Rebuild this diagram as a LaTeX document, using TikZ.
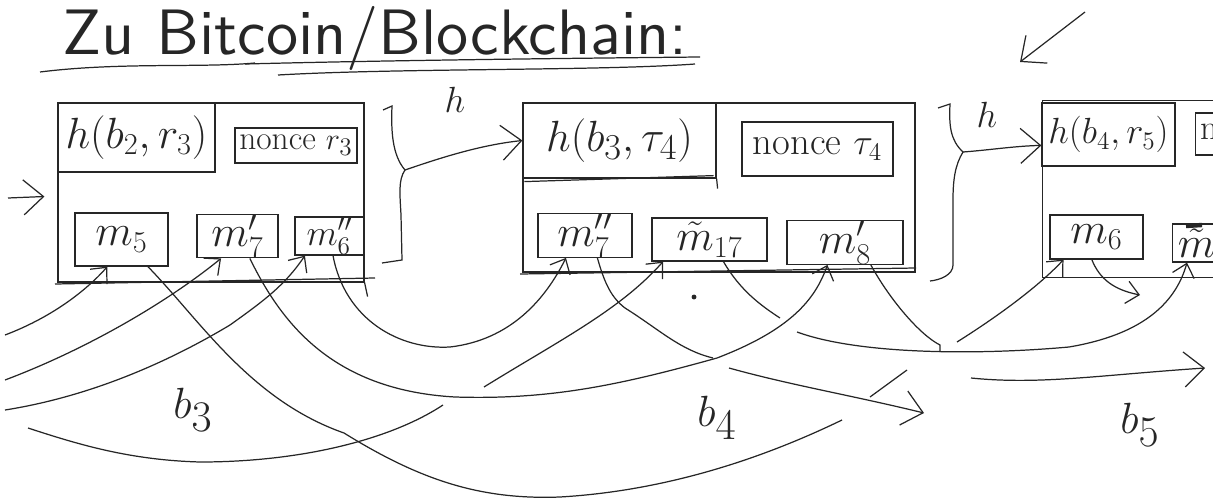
\documentclass[tikz,border=0pt]{standalone}
\usetikzlibrary{arrows.meta,calc}
\begin{document}
\begin{tikzpicture}[x=0.02cm,y=-0.02cm,line width=0.7pt,color=black!85,
  cell/.style={draw,inner sep=0pt},
  arr/.style={-{Straight Barb[length=2.5mm,width=4.5mm]}},
  bigarr/.style={-{Straight Barb[length=4mm,width=7mm]}},
  fA/.style={font=\fontsize{24}{26}\selectfont},
  fB/.style={font=\fontsize{20}{22}\selectfont},
  fC/.style={font=\fontsize{34}{36}\selectfont}]
\useasboundingbox (0,0) rectangle (1213,500);
\clip (0,0) rectangle (1213,500);

% title
\node[anchor=west,inner sep=0pt] (title) at (62,38) {\resizebox{12.5cm}{!}{\sffamily Zu Bitcoin/Blockchain:}};
\draw (40,72) .. controls (120,62) and (200,68) .. (255,63);
\draw (245,64) .. controls (400,60) and (600,58) .. (700,57);
\draw (278,75) .. controls (400,68) and (600,71) .. (695,64);

% top right arrow
\coordinate (tra) at (1085,12);
\coordinate (trb) at (1020,62);
\draw[bigarr] (tra) -- (trb);

% block 1
\node[cell,minimum width=6.12cm,minimum height=3.58cm] (B1) at (211,192.5) {};
\node[cell,minimum width=3.14cm,minimum height=1.38cm,fA] (h1) at (136.5,137.5) {$h(b_2,r_3)$};
\node[cell,minimum width=2.44cm,minimum height=0.7cm,font=\fontsize{19}{21}\selectfont] (n1) at (296,145.5) {nonce $r_3$};
\node[cell,minimum width=1.86cm,minimum height=1.06cm,fA] (m5) at (121.5,239.5) {$m_5$};
\node[cell,minimum width=1.62cm,minimum height=0.84cm,fA] (m7p) at (237.5,236) {$m'_7$};
\node[cell,minimum width=1.38cm,minimum height=0.76cm,fB] (m6pp) at (329.5,236) {$m''_6$};
\draw (55,284) -- (375,278);
\draw (B1.south east) -- ++(3,14);
\coordinate (la) at (8,198);
\draw[bigarr] (la) -- ($(B1.west)+(-13,4)$);

% brace 1
\coordinate (br1) at (405,170);
\draw (383,110) -- (392,106) .. controls (391,130) and (392,155) .. (br1)
      .. controls (398,180) and (400,195) .. (401,215) -- (402,260) -- (382,263);
\node[fB] (hl1) at (455,100) {$h$};

% block 2
\node[cell,minimum width=7.84cm,minimum height=3.38cm] (B2) at (719,187.5) {};
\node[cell,minimum width=3.86cm,minimum height=1.5cm,font=\fontsize{28}{30}\selectfont] (h2) at (619.5,140.5) {$h(b_3,\tau_4)$};
\draw ($(h2.south west)+(2,3)$) -- ($(h2.south east)+(-3,-3)$);
\draw (h2.south east) -- ++(1,10);
\node[cell,minimum width=3.02cm,minimum height=1.08cm,font=\fontsize{22}{24}\selectfont] (n2) at (817.5,149) {nonce $\tau_4$};
\node[cell,minimum width=1.88cm,minimum height=0.82cm,fA] (m7pp) at (585,235.5) {$m''_7$};
\node[cell,minimum width=2.3cm,minimum height=0.86cm,fA] (m17) at (709.5,239.5) {$\tilde m_{17}$};
\node[cell,minimum width=2.32cm,minimum height=0.82cm,fA] (m8p) at (845,242.5) {$m'_8$};
\draw (520,274) -- (916,268);
\draw[bigarr] (br1) .. controls (440,158) and (480,145) .. (h2.west);

% brace 2
\coordinate (br2) at (963,152);
\draw (938,108) -- (950,104) .. controls (949,125) and (950,140) .. (br2)
      .. controls (955,165) and (953,180) .. (953,200) -- (953,265)
      .. controls (953,275) and (940,280) .. (930,281);
\node[fB] (hl2) at (987,115) {$h$};

% block 3
\node[cell,minimum width=4cm,minimum height=3.54cm,anchor=north west] (B3) at (1042,100) {};
\node[cell,minimum width=2.66cm,minimum height=1.26cm,font=\fontsize{22}{24}\selectfont] (h3) at (1108.5,134.5) {$h(b_4,r_5)$};
\node[cell,minimum width=2.2cm,minimum height=0.84cm,anchor=west] (n3) at (1195,134) {};
\node[anchor=west,inner sep=3pt,fB] (n3t) at (n3.west) {nonce $r_5$};
\node[cell,minimum width=1.86cm,minimum height=0.88cm,fA] (m6) at (1096.5,237) {$m_6$};
\node[cell,minimum width=2.3cm,minimum height=0.76cm,anchor=west] (m3t) at (1172,243) {};
\node[anchor=west,inner sep=3pt,fA] (m3tt) at (m3t.west) {$\tilde m$};
\draw[line width=2.5pt] (1186,226) -- (1202,225);
\draw[bigarr] (br2) .. controls (990,150) and (1015,146) .. ($(h3.south west)!0.33!(h3.north west)$);

% labels
\node[fC] (lb3) at (193,410) {$b_3$};
\node[fC] (lb4) at (717,418) {$b_4$};
\node[fC] (lb5) at (1140,425) {$b_5$};
\fill (694,297) circle (1.4pt);

% curves
\coordinate (c1) at (5,335);
\draw[arr] (c1) .. controls (50,318) and (85,292) .. ($(m5.south west)!0.35!(m5.south east)$);
\coordinate (c2) at (5,380);
\draw[arr] (c2) .. controls (90,348) and (170,300) .. ($(m7p.south west)!0.3!(m7p.south east)$);
\coordinate (c3) at (5,410);
\draw[arr] (c3) .. controls (100,395) and (180,355) .. (230,325) .. controls (265,300) and (285,285) .. ($(m6pp.south west)!0.15!(m6pp.south east)$);
\coordinate (c4a) at (28,428);
\coordinate (c4b) at (443,405);
\draw (c4a) .. controls (80,445) and (130,460) .. (200,462) .. controls (300,462) and (390,440) .. (c4b);
\coordinate (c5) at (842,420);
\draw ($(m5.south west)!0.78!(m5.south east)$) .. controls (200,320) and (250,400) .. (344,433)
   .. controls (420,480) and (480,500) .. (560,497) .. controls (680,490) and (780,450) .. (c5);
\draw[arr] ($(m7p.south west)!0.65!(m7p.south east)$) .. controls (280,320) and (330,390) .. (455,397)
   .. controls (550,400) and (620,385) .. (717,358) .. controls (790,330) and (815,300) .. ($(m8p.south west)!0.35!(m8p.south east)$);
\draw[arr] ($(m6pp.south west)!0.55!(m6pp.south east)$) .. controls (345,320) and (400,350) .. (450,347)
   .. controls (510,340) and (545,300) .. ($(m7pp.south west)!0.3!(m7pp.south east)$);
\coordinate (c8) at (484,387);
\draw[arr] (c8) .. controls (560,340) and (620,310) .. ($(m17.south west)!0.1!(m17.south east)$);
\coordinate (c9) at (713,358);
\draw ($(m7pp.south west)!0.63!(m7pp.south east)$) .. controls (605,285) and (612,298) .. (625,308) .. controls (660,330) and (680,350) .. (c9);
\coordinate (c10a) at (729,368);
\coordinate (c10b) at (924,413);
\draw[bigarr] (c10a) .. controls (790,385) and (850,395) .. (c10b);
\draw (870,397) -- (907,370);
\coordinate (c12) at (780,318);
\draw ($(m17.south west)!0.62!(m17.south east)$) .. controls (740,290) and (760,305) .. (c12);
\coordinate (c13) at (940,352);
\draw ($(m8p.south west)!0.72!(m8p.south east)$) .. controls (890,300) and (920,335) .. (940,345) -- (c13);
\coordinate (c14) at (797,332);
\draw[arr] (c14) .. controls (860,355) and (980,355) .. (1069,347) .. controls (1140,335) and (1175,305) .. ($(m3t.south west)+(15,0)$);
\coordinate (c15) at (957,342);
\draw[arr] (c15) .. controls (1000,315) and (1040,285) .. ($(m6.south west)!0.15!(m6.south east)$);
\coordinate (c16a) at (971,378);
\coordinate (c16b) at (1205,368);
\draw[bigarr] (c16a) .. controls (1040,385) and (1100,375) .. (c16b);
\coordinate (c17) at (1140,295);
\draw[arr] ($(m6.south west)!0.45!(m6.south east)$) .. controls (1100,280) and (1115,290) .. (c17);
\end{tikzpicture}
\end{document}
